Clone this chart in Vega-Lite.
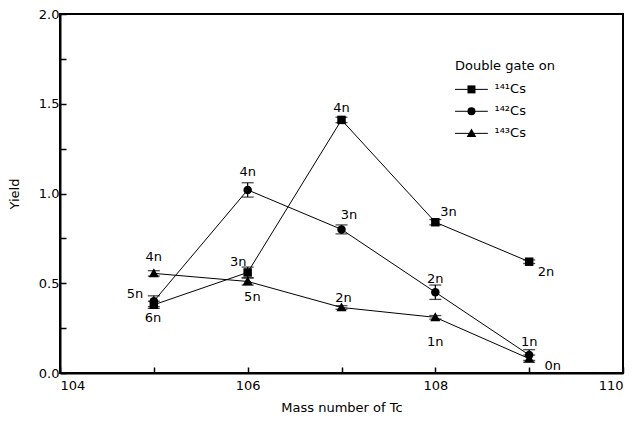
{
  "$schema": "https://vega.github.io/schema/vega-lite/v6.json",
  "width": 563,
  "height": 359,
  "autosize": {"type": "none"},
  "padding": {"left": 60, "top": 14, "right": 12, "bottom": 48},
  "background": "white",
  "config": {
    "font": "DejaVu Sans",
    "view": {"stroke": "black", "strokeWidth": 2},
    "axis": {
      "grid": false,
      "domainColor": "black",
      "domainWidth": 2,
      "tickColor": "black",
      "tickWidth": 1.5,
      "tickSize": -6,
      "labelColor": "black",
      "labelFontSize": 13,
      "titleColor": "black",
      "titleFontSize": 13,
      "titleFontWeight": "normal"
    }
  },
  "datasets": {
    "yields": [
      {"mass": 105, "yield": 0.38, "lo": 0.36, "hi": 0.40, "cs": "¹⁴¹Cs"},
      {"mass": 106, "yield": 0.56, "lo": 0.53, "hi": 0.59, "cs": "¹⁴¹Cs"},
      {"mass": 107, "yield": 1.41, "lo": 1.395, "hi": 1.425, "cs": "¹⁴¹Cs"},
      {"mass": 108, "yield": 0.84, "lo": 0.825, "hi": 0.855, "cs": "¹⁴¹Cs"},
      {"mass": 109, "yield": 0.62, "lo": 0.61, "hi": 0.63, "cs": "¹⁴¹Cs"},
      {"mass": 105, "yield": 0.40, "lo": 0.37, "hi": 0.43, "cs": "¹⁴²Cs"},
      {"mass": 106, "yield": 1.02, "lo": 0.98, "hi": 1.06, "cs": "¹⁴²Cs"},
      {"mass": 107, "yield": 0.80, "lo": 0.775, "hi": 0.825, "cs": "¹⁴²Cs"},
      {"mass": 108, "yield": 0.45, "lo": 0.41, "hi": 0.49, "cs": "¹⁴²Cs"},
      {"mass": 109, "yield": 0.10, "lo": 0.07, "hi": 0.13, "cs": "¹⁴²Cs"},
      {"mass": 105, "yield": 0.555, "lo": 0.54, "hi": 0.57, "cs": "¹⁴³Cs"},
      {"mass": 106, "yield": 0.51, "lo": 0.49, "hi": 0.53, "cs": "¹⁴³Cs"},
      {"mass": 107, "yield": 0.365, "lo": 0.355, "hi": 0.375, "cs": "¹⁴³Cs"},
      {"mass": 108, "yield": 0.31, "lo": 0.30, "hi": 0.32, "cs": "¹⁴³Cs"},
      {"mass": 109, "yield": 0.08, "lo": 0.06, "hi": 0.10, "cs": "¹⁴³Cs"}
    ],
    "notes": [
      {"mass": 104.99, "yield": 0.306, "text": "6n"},
      {"mass": 104.80, "yield": 0.44, "text": "5n"},
      {"mass": 105.0, "yield": 0.645, "text": "4n"},
      {"mass": 105.90, "yield": 0.617, "text": "3n"},
      {"mass": 106.05, "yield": 0.423, "text": "5n"},
      {"mass": 106.0, "yield": 1.118, "text": "4n"},
      {"mass": 107.0, "yield": 1.474, "text": "4n"},
      {"mass": 107.08, "yield": 0.879, "text": "3n"},
      {"mass": 107.02, "yield": 0.417, "text": "2n"},
      {"mass": 108.14, "yield": 0.896, "text": "3n"},
      {"mass": 108.0, "yield": 0.523, "text": "2n"},
      {"mass": 108.0, "yield": 0.172, "text": "1n"},
      {"mass": 109.18, "yield": 0.562, "text": "2n"},
      {"mass": 109.0, "yield": 0.172, "text": "1n"},
      {"mass": 109.25, "yield": 0.039, "text": "0n"}
    ],
    "caption": [
      {"mass": 108.21, "yield": 1.708, "text": "Double gate on"}
    ],
    "key": [
      {"cs": "¹⁴¹Cs", "yield": 1.580, "start": 108.21, "mid": 108.385, "end": 108.56, "textAt": 108.63},
      {"cs": "¹⁴²Cs", "yield": 1.458, "start": 108.21, "mid": 108.385, "end": 108.56, "textAt": 108.63},
      {"cs": "¹⁴³Cs", "yield": 1.335, "start": 108.21, "mid": 108.385, "end": 108.56, "textAt": 108.63}
    ]
  },
  "encoding": {
    "x": {
      "field": "mass",
      "type": "quantitative",
      "scale": {"domain": [104, 110], "nice": false, "zero": false},
      "axis": {
        "title": "Mass number of Tc",
        "values": [104, 105, 106, 107, 108, 109, 110],
        "labelExpr": "datum.value % 2 === 0 ? datum.label : ''",
        "labelPadding": 12,
        "titlePadding": 9
      }
    },
    "y": {
      "field": "yield",
      "type": "quantitative",
      "scale": {"domain": [0, 2], "nice": false},
      "axis": {
        "title": "Yield",
        "values": [0, 0.25, 0.5, 0.75, 1, 1.25, 1.5, 1.75, 2],
        "format": ".1f",
        "labelExpr": "datum.value * 2 % 1 === 0 ? datum.label : ''",
        "labelPadding": 7,
        "titlePadding": 17
      }
    }
  },
  "layer": [
    {
      "data": {"name": "yields"},
      "mark": {"type": "line", "color": "black", "strokeWidth": 1},
      "encoding": {"detail": {"field": "cs"}}
    },
    {
      "data": {"name": "yields"},
      "mark": {"type": "rule", "color": "black", "strokeWidth": 1.2},
      "encoding": {
        "y": {"field": "lo", "type": "quantitative"},
        "y2": {"field": "hi"}
      }
    },
    {
      "data": {"name": "yields"},
      "mark": {"type": "tick", "color": "black", "orient": "horizontal", "size": 12, "thickness": 1.3},
      "encoding": {"y": {"field": "lo", "type": "quantitative"}}
    },
    {
      "data": {"name": "yields"},
      "mark": {"type": "tick", "color": "black", "orient": "horizontal", "size": 12, "thickness": 1.3},
      "encoding": {"y": {"field": "hi", "type": "quantitative"}}
    },
    {
      "data": {"name": "yields"},
      "mark": {"type": "point", "filled": true, "color": "black", "opacity": 1, "size": 72},
      "encoding": {
        "shape": {
          "field": "cs",
          "type": "nominal",
          "scale": {
            "domain": ["¹⁴¹Cs", "¹⁴²Cs", "¹⁴³Cs"],
            "range": ["square", "circle", "M0,-1.2L1.2,0.9L-1.2,0.9Z"]
          },
          "legend": null
        }
      }
    },
    {
      "data": {"name": "notes"},
      "mark": {"type": "text", "color": "black", "fontSize": 13, "align": "center", "baseline": "middle"},
      "encoding": {"text": {"field": "text"}}
    },
    {
      "data": {"name": "caption"},
      "mark": {"type": "text", "color": "black", "fontSize": 13, "align": "left", "baseline": "middle"},
      "encoding": {"text": {"field": "text"}}
    },
    {
      "data": {"name": "key"},
      "mark": {"type": "rule", "color": "black", "strokeWidth": 1},
      "encoding": {
        "x": {"field": "start", "type": "quantitative"},
        "x2": {"field": "end"}
      }
    },
    {
      "data": {"name": "key"},
      "mark": {"type": "point", "filled": true, "color": "black", "opacity": 1, "size": 64},
      "encoding": {
        "x": {"field": "mid", "type": "quantitative"},
        "shape": {"field": "cs", "type": "nominal", "legend": null}
      }
    },
    {
      "data": {"name": "key"},
      "mark": {"type": "text", "color": "black", "fontSize": 13, "align": "left", "baseline": "middle"},
      "encoding": {
        "x": {"field": "textAt", "type": "quantitative"},
        "text": {"field": "cs"}
      }
    }
  ]
}
